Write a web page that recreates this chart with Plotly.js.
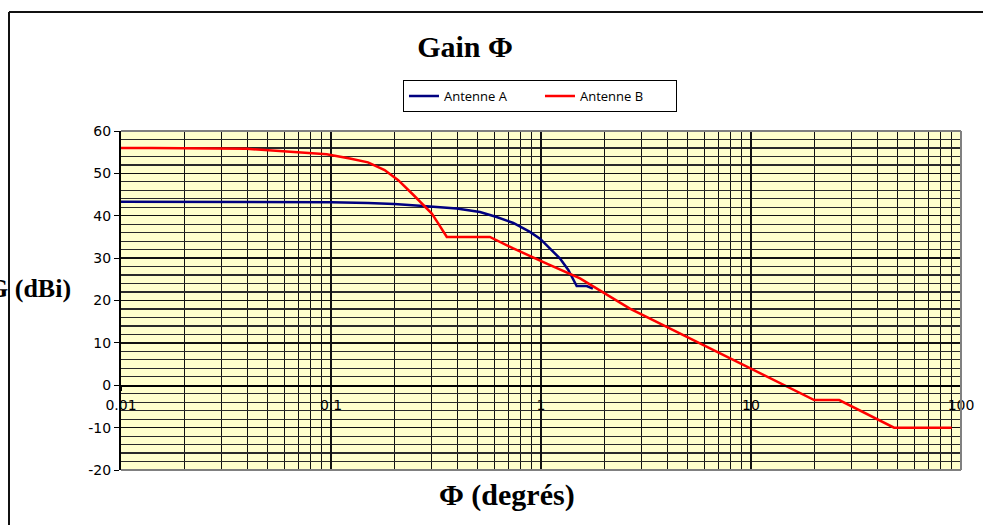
<!DOCTYPE html>
<html>
<head>
<meta charset="utf-8">
<script src="https://cdn.plot.ly/plotly-3.0.1.min.js"></script>
<style>html,body{margin:0;padding:0;background:#fff;}#chart{width:983px;height:525px;}</style>
</head>
<body>
<div id="chart"></div>
<script>
// Antenne A
var phiA = [0.01, 0.02, 0.05, 0.1, 0.15, 0.2, 0.275, 0.397, 0.512, 0.615, 0.738, 0.886, 0.989, 1.104, 1.232, 1.349, 1.479, 1.651, 1.766];
var gainA = [43.3, 43.3, 43.3, 43.2, 43.0, 42.8, 42.3, 41.7, 40.9, 39.7, 38.3, 36.2, 34.6, 32.3, 29.9, 27.2, 23.4, 23.4, 22.8];
// Antenne B
var phiB = [0.01, 0.014, 0.0397, 0.0494, 0.0712, 0.0954, 0.123, 0.15, 0.18, 0.209, 0.247, 0.275, 0.302, 0.324, 0.356, 0.571, 0.615, 0.738, 1.065, 1.534, 2.65, 10, 20, 26.3, 48, 90.3];
var gainB = [56.0, 56.0, 55.8, 55.5, 55.0, 54.5, 53.5, 52.6, 50.8, 48.4, 44.9, 42.5, 40.5, 38.2, 35.0, 35.0, 34.2, 32.3, 28.7, 25.2, 18.1, 4.0, -3.5, -3.5, -10.0, -10.0];
// ticks
var xTickVals = [0.01, 0.1, 1, 10, 100];
var xTickText = ['0.01', '0.1', '1', '10', '100'];
var yTickVals = [-20, -10, 0, 10, 20, 30, 40, 50, 60];
var yTickText = ['-20', '-10', '0', '10', '20', '30', '40', '50', '60'];
var xMinorVals = [];
[0.01, 0.1, 1, 10].forEach(function (d) { for (var k = 2; k <= 9; k++) xMinorVals.push(+(d * k).toPrecision(3)); });

var traces = [
  {x: phiA, y: gainA, type: 'scatter', mode: 'lines', name: 'Antenne A', line: {color: '#000080', width: 2.5}},
  {x: phiB, y: gainB, type: 'scatter', mode: 'lines', name: 'Antenne B', line: {color: '#FF0000', width: 2.5}}
];

var gridC = '#111111';
var layout = {
  width: 983, height: 525,
  margin: {l: 121, r: 22, t: 131, b: 55, pad: 0},
  paper_bgcolor: '#ffffff',
  plot_bgcolor: '#FFFFCC',
  showlegend: true,
  title: {text: '<b>Gain Φ</b>', font: {family: 'Liberation Serif', size: 30, color: '#000'}, x: 465 / 983, xanchor: 'center', y: 1 - 46 / 525, yanchor: 'middle'},
  legend: {orientation: 'h', x: 0.3357, xanchor: 'left', y: 1.150, yanchor: 'top', bgcolor: '#fff', bordercolor: '#000', borderwidth: 1,
           font: {family: 'Open Sans', size: 13, color: '#000'}, entrywidth: 91, entrywidthmode: 'pixels', tracegroupgap: 0},
  xaxis: {type: 'log', range: [-2, 2], tickmode: 'array', tickvals: xTickVals, ticktext: xTickText,
          anchor: 'free', position: 0.25, showline: true, linecolor: '#000', linewidth: 1.5,
          ticks: 'outside', ticklen: 4, tickcolor: '#000', ticklabelstandoff: 2,
          tickfont: {family: 'DejaVu Sans', size: 14, color: '#000'},
          showgrid: true, gridcolor: gridC, gridwidth: 1.3, zeroline: false,
          minor: {tickmode: 'array', tickvals: xMinorVals, showgrid: true, gridcolor: gridC, gridwidth: 1.3, ticks: ''}},
  yaxis: {range: [-20, 60], tickmode: 'array', tickvals: yTickVals, ticktext: yTickText, showline: true, linecolor: '#000', linewidth: 2,
          ticks: 'outside', ticklen: 5, tickcolor: '#000',
          tickfont: {family: 'DejaVu Sans', size: 14, color: '#000'},
          showgrid: true, gridcolor: gridC, gridwidth: 1.3, zeroline: false,
          minor: {dtick: 2, showgrid: true, gridcolor: '#2a2a2a', gridwidth: 1.2, ticks: ''}},
  annotations: [
    {text: '<b>Φ (degrés)</b>', xref: 'paper', yref: 'paper', x: (507 - 121) / 840, y: (470 - 495) / 339,
     xanchor: 'center', yanchor: 'middle', showarrow: false, font: {family: 'Liberation Serif', size: 30, color: '#000'}},
    {text: '<b>G (dBi)</b>', xref: 'paper', yref: 'paper', x: (73 - 121) / 840, y: (470 - 288) / 339,
     xanchor: 'right', yanchor: 'middle', showarrow: false, font: {family: 'Liberation Serif', size: 26, color: '#000'}}
  ],
  shapes: [
    // plot area border (grey)
    {type: 'line', xref: 'paper', yref: 'paper', x0: 0, x1: 1, y0: 1, y1: 1, line: {color: '#808080', width: 2}, layer: 'above'},
    {type: 'line', xref: 'paper', yref: 'paper', x0: 1, x1: 1, y0: 0, y1: 1, line: {color: '#808080', width: 2}, layer: 'above'},
    {type: 'line', xref: 'paper', yref: 'paper', x0: 0, x1: 1, y0: 0, y1: 0, line: {color: '#808080', width: 2}, layer: 'above'},
    // outer frame
    {type: 'line', xref: 'paper', yref: 'paper', x0: (9 - 121) / 840, x1: (990 - 121) / 840, y0: (470 - 12) / 339, y1: (470 - 12) / 339, line: {color: '#111', width: 2}, layer: 'above'},
    {type: 'line', xref: 'paper', yref: 'paper', x0: (9 - 121) / 840, x1: (9 - 121) / 840, y0: (470 - 12) / 339, y1: (470 - 535) / 339, line: {color: '#111', width: 2}, layer: 'above'}
  ]
};

Plotly.newPlot('chart', traces, layout, {displayModeBar: false, staticPlot: true});
</script>
</body>
</html>
